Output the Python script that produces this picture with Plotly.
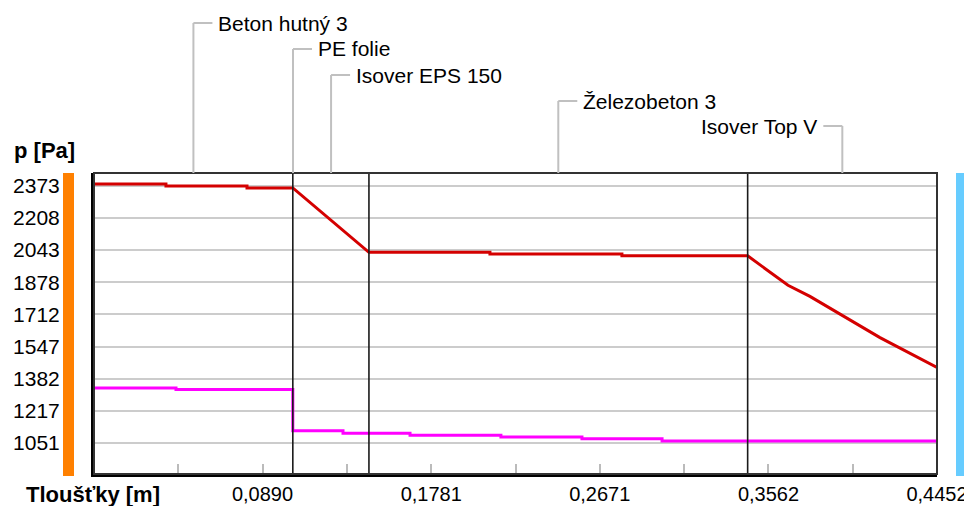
import plotly.graph_objects as go

# ---------------- data ----------------
layer_names = ["Beton hutný 3", "PE folie", "Isover EPS 150", "Železobeton 3", "Isover Top V"]
layer_bounds = [0.0, 0.105, 0.1052, 0.1452, 0.3452, 0.4452]

red_x = [0.0, 0.038, 0.038, 0.0808, 0.0808, 0.105, 0.1452, 0.2091, 0.2091, 0.2788, 0.2788,
         0.3452, 0.3665, 0.3781, 0.4151, 0.4257, 0.4346, 0.4452]
red_y = [2383, 2383, 2373, 2373, 2363, 2363, 2032, 2032, 2023, 2023, 2014,
         2014, 1862, 1805, 1593, 1540, 1492, 1440]

mag_x = [0.0, 0.0433, 0.0433, 0.105, 0.105, 0.1315, 0.1315, 0.1669, 0.1669, 0.2149, 0.2149,
         0.2577, 0.2577, 0.3000, 0.3000, 0.4452]
mag_y = [1334, 1334, 1326, 1326, 1113, 1113, 1101, 1101, 1091, 1091, 1082,
         1082, 1072, 1072, 1061, 1061]

y_ticks = [2373, 2208, 2043, 1878, 1712, 1547, 1382, 1217, 1051]
x_ticks = [0.0890, 0.1781, 0.2671, 0.3562, 0.4452]
x_tick_text = ["0,0890", "0,1781", "0,2671", "0,3562", "0,4452"]
x_minor = [0.04452 * i for i in range(1, 10)]

# ---------------- layout helpers ----------------
OFF = 8                      # default page body margin
WIN_W, WIN_H = 972, 506
W, H = WIN_W - OFF, WIN_H - OFF
L, R, T, B = 94, 937, 173, 474   # plot area in window pixels
PW, PH = R - L, B - T
FONT = "Liberation Sans, Arial, sans-serif"

def px_x(p):
    return (p - L) / PW

def px_y(p):
    return (B - p) / PH

fig = go.Figure()
fig.add_trace(go.Scatter(x=red_x, y=red_y, mode="lines",
                         line=dict(color="#d40000", width=3), hoverinfo="skip"))
fig.add_trace(go.Scatter(x=mag_x, y=mag_y, mode="lines",
                         line=dict(color="#ff00ff", width=3), hoverinfo="skip"))

shapes = []
# layer boundary lines
for xb in [layer_bounds[1], layer_bounds[3], layer_bounds[4]]:
    shapes.append(dict(type="line", xref="x", yref="paper", x0=xb, x1=xb, y0=0, y1=1,
                       line=dict(color="#1a1a1a", width=1.6), layer="above"))
# frame
shapes.append(dict(type="rect", xref="paper", yref="paper", x0=0, x1=1, y0=0, y1=1,
                   line=dict(color="#333333", width=2), layer="above"))
# side bars
shapes.append(dict(type="rect", xref="paper", yref="paper", x0=px_x(63), x1=px_x(74),
                   y0=px_y(476), y1=px_y(173), fillcolor="#ff8000", line=dict(width=0)))
shapes.append(dict(type="rect", xref="paper", yref="paper", x0=px_x(956), x1=px_x(967),
                   y0=px_y(476), y1=px_y(173), fillcolor="#66ccff", line=dict(width=0)))

# leader lines and labels
label_levels = [23, 49, 75, 101, 126]
seg = 19 / PW * layer_bounds[-1]
annotations = []
for i, name in enumerate(layer_names):
    mid = (layer_bounds[i] + layer_bounds[i + 1]) / 2
    yl = px_y(label_levels[i])
    shapes.append(dict(type="line", xref="x", yref="paper", x0=mid, x1=mid, y0=1, y1=yl,
                       line=dict(color="#c0c0c0", width=2)))
    right_side = i < len(layer_names) - 1
    x2 = mid + seg if right_side else mid - seg
    shapes.append(dict(type="line", xref="x", yref="paper", x0=mid, x1=x2, y0=yl, y1=yl,
                       line=dict(color="#c0c0c0", width=2)))
    annotations.append(dict(x=mid, y=yl, xref="x", yref="paper", text=name, showarrow=False,
                            xanchor="left" if right_side else "right", yanchor="middle",
                            xshift=23 if right_side else -23,
                            font=dict(family=FONT, size=21, color="#000000")))

annotations.append(dict(x=px_x(12), y=px_y(150), xref="paper", yref="paper", text="<b>p [Pa]</b>",
                        showarrow=False, xanchor="left", yanchor="middle",
                        font=dict(family=FONT, size=22, color="#000000")))
annotations.append(dict(x=px_x(24), y=px_y(494), xref="paper", yref="paper",
                        text="<b>Tloušťky [m]</b>", showarrow=False, xanchor="left", yanchor="middle",
                        font=dict(family=FONT, size=22, color="#000000")))

fig.update_layout(
    width=W, height=H, autosize=False,
    margin=dict(l=L - OFF, r=WIN_W - R, t=T - OFF, b=WIN_H - B, pad=0, autoexpand=False),
    paper_bgcolor="white", plot_bgcolor="white",
    showlegend=False,
    shapes=shapes, annotations=annotations,
    font=dict(family=FONT, size=21, color="#000000"),
    xaxis=dict(range=[0, layer_bounds[-1]], tickvals=x_ticks, ticktext=x_tick_text,
               ticks="inside", ticklen=10, tickwidth=2, tickcolor="#bbbbbb",
               minor=dict(tickvals=x_minor, ticks="inside", ticklen=10, tickwidth=2,
                          tickcolor="#bbbbbb", showgrid=False),
               showgrid=False, zeroline=False, showline=True, linecolor="#000000", linewidth=3,
               automargin=False,
               tickfont=dict(family=FONT, size=20, color="#000000"), ticklabelstandoff=0),
    yaxis=dict(range=[891, 2440], tickvals=y_ticks, ticktext=[str(v) for v in y_ticks],
               ticks="", showgrid=True, gridcolor="#cccccc", gridwidth=2, zeroline=False,
               showline=True, linecolor="#000000", linewidth=3, automargin=False,
               tickfont=dict(family=FONT, size=21, color="#000000"), ticklabelstandoff=27),
)

fig.write_html("out.html")
